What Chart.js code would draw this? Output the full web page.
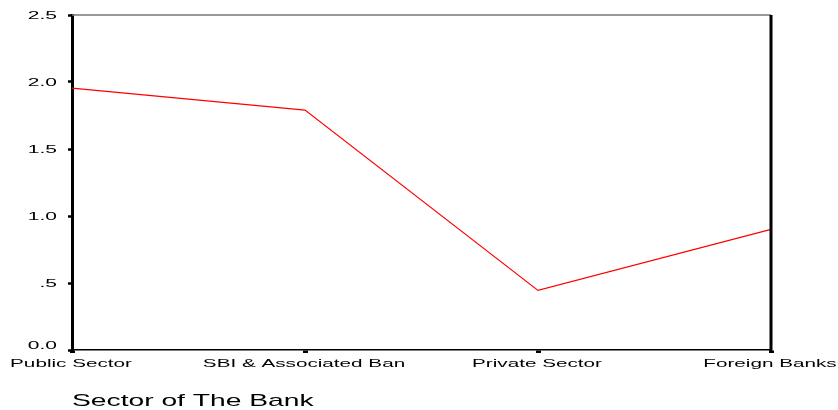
<!DOCTYPE html>
<html>
<head>
<meta charset="utf-8">
<script src="https://cdn.jsdelivr.net/npm/chart.js@4"></script>
<style>
  body { margin: 0; background: #fff; }
  #wrap { width: 838px; height: 410px; }
</style>
</head>
<body>
<div id="wrap"><canvas id="myChart" width="838" height="410"></canvas></div>
<script>
const sectors = ['Public Sector', 'SBI & Associated Ban', 'Private Sector', 'Foreign Banks'];
const meanValues = [1.955, 1.79, 0.445, 0.90];
const yTicks = [0, 0.5, 1.0, 1.5, 2.0, 2.5];
const yTickLabels = ['0.0', '.5', '1.0', '1.5', '2.0', '2.5'];
const xTitle = 'Sector of The Bank';

// the original picture is stretched sideways, so the text is drawn wide too
function wideText(c, text, x, y, sx, align, baseline) {
  c.save();
  c.translate(x, y);
  c.scale(sx, 1);
  c.textAlign = align;
  c.textBaseline = baseline;
  c.fillText(text, 0, 0);
  c.restore();
}

const frame = {
  id: 'frame',
  afterDraw(chart) {
    const a = chart.chartArea;
    const c = chart.ctx;
    const xs = chart.scales.x;
    const ys = chart.scales.y;
    c.save();
    // gray top edge, thick right edge
    c.strokeStyle = '#777';
    c.lineWidth = 1.5;
    c.beginPath();
    c.moveTo(a.left, a.top);
    c.lineTo(a.right, a.top);
    c.stroke();
    c.strokeStyle = '#000';
    c.lineWidth = 3;
    c.beginPath();
    c.moveTo(a.right, a.top);
    c.lineTo(a.right, a.bottom + 1);
    c.stroke();

    c.fillStyle = '#000';
    c.font = '10.5px "Liberation Sans", Arial, sans-serif';
    yTicks.forEach((v, i) => {
      wideText(c, yTickLabels[i], 57, ys.getPixelForValue(v) + (i === 0 ? -4 : 1), 2.0, 'right', 'middle');
    });
    c.font = '11px "Liberation Sans", Arial, sans-serif';
    sectors.forEach((s, i) => {
      wideText(c, s, xs.getPixelForTick(i) - 1, 367, 1.88, 'center', 'alphabetic');
    });
    c.font = '17px "Liberation Sans", Arial, sans-serif';
    wideText(c, xTitle, 72, 406, 1.66, 'left', 'alphabetic');
    c.restore();
  }
};

const ctx = document.getElementById('myChart').getContext('2d');
new Chart(ctx, {
  type: 'line',
  data: {
    labels: sectors,
    datasets: [{
      data: meanValues,
      borderColor: '#ff0000',
      borderWidth: 1.2,
      pointRadius: 0,
      tension: 0,
      fill: false
    }]
  },
  options: {
    responsive: false,
    animation: false,
    layout: { padding: { top: 15, right: 67, left: 0, bottom: 0 } },
    plugins: { legend: { display: false }, tooltip: { enabled: false } },
    scales: {
      x: {
        offset: false,
        border: { color: '#000', width: 1.5 },
        grid: { drawOnChartArea: false, color: '#000', tickLength: 3, tickWidth: 5 },
        ticks: { display: false, autoSkip: false },
        afterFit(scale) { scale.height = 60; }
      },
      y: {
        min: 0, max: 2.5,
        afterBuildTicks(scale) { scale.ticks = yTicks.map(v => ({ value: v })); },
        border: { color: '#000', width: 3 },
        grid: { drawOnChartArea: false, color: '#000', tickLength: 4, tickWidth: 2.5 },
        ticks: { display: false },
        afterFit(scale) { scale.width = 72; }
      }
    }
  },
  plugins: [frame]
});
</script>
</body>
</html>
